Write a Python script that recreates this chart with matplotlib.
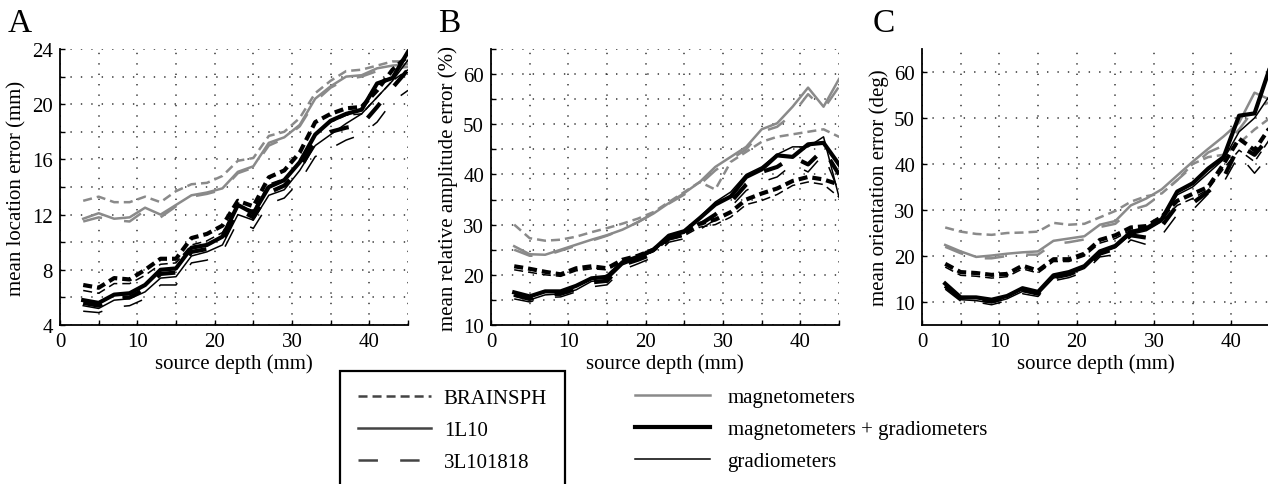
import matplotlib
matplotlib.use("Agg")
from matplotlib import pyplot as plt
from matplotlib.lines import Line2D
from matplotlib.ticker import MultipleLocator

plt.rcParams['font.family'] = ['Liberation Serif', 'DejaVu Serif']
plt.rcParams['lines.scale_dashes'] = False

depth = [3, 5, 7, 9, 11, 13, 15, 17, 19, 21, 23, 25, 27, 29, 31, 33, 35, 37, 39, 41, 43, 45]

# A: mean location error (mm)
loc_mag_bs = [13.0, 13.3, 12.9, 12.9, 13.3, 12.9, 13.7, 14.2, 14.3, 14.8, 15.9, 16.1, 17.7, 18.0, 19.0, 20.8, 21.7, 22.4, 22.5, 22.8, 23.1, 23.1]
loc_mag_1l = [11.7, 12.1, 11.7, 11.8, 12.5, 12.0, 12.7, 13.4, 13.6, 13.9, 15.1, 15.5, 17.2, 17.6, 18.5, 20.4, 21.3, 22.0, 22.1, 22.6, 22.8, 22.9]
loc_mag_3l = [11.5, 11.8, 11.6, 11.5, 12.3, 11.8, 12.6, 13.3, 13.5, 13.8, 15.0, 15.4, 17.0, 17.5, 18.4, 20.2, 21.2, 21.8, 22.0, 22.4, 22.6, 22.7]
loc_mg_bs = [6.9, 6.7, 7.4, 7.3, 8.0, 8.8, 8.8, 10.3, 10.6, 11.2, 13.0, 12.6, 14.7, 15.2, 16.5, 18.7, 19.3, 19.7, 19.8, 21.0, 22.5, 23.5]
loc_mg_1l = [5.8, 5.6, 6.2, 6.3, 6.9, 8.0, 8.1, 9.6, 9.8, 10.4, 12.7, 12.1, 14.0, 14.5, 15.8, 17.8, 18.8, 19.3, 19.6, 21.5, 21.9, 23.8]
loc_mg_3l = [5.6, 5.4, 6.0, 6.0, 6.6, 7.7, 7.8, 9.3, 9.5, 10.1, 12.4, 11.8, 13.6, 14.1, 15.3, 17.3, 18.0, 18.3, 18.5, 19.8, 21.2, 22.5]
loc_grad_bs = [6.5, 6.3, 7.0, 7.0, 7.6, 8.4, 8.5, 9.8, 10.1, 10.7, 12.6, 12.3, 14.2, 14.6, 15.8, 17.9, 18.7, 19.2, 19.3, 20.5, 21.7, 22.5]
loc_grad_1l = [5.4, 5.2, 5.8, 5.9, 6.4, 7.4, 7.5, 9.0, 9.3, 9.8, 12.0, 11.6, 13.4, 13.8, 15.2, 17.0, 17.8, 18.6, 19.3, 20.5, 21.7, 23.2]
loc_grad_3l = [5.0, 4.9, 5.3, 5.4, 5.9, 6.9, 6.9, 8.5, 8.7, 9.3, 11.5, 11.0, 12.8, 13.2, 14.4, 16.2, 16.8, 17.4, 17.8, 18.7, 20.2, 21.0]

# B: mean relative amplitude error (%)
amp_mag_bs = [30.0, 27.3, 26.8, 27.0, 27.6, 28.5, 29.3, 30.2, 31.2, 32.5, 34.5, 36.5, 38.5, 37.0, 42.5, 44.5, 46.5, 47.5, 48.0, 48.5, 49.0, 47.5]
amp_mag_1l = [25.7, 24.1, 24.0, 25.0, 26.0, 27.0, 27.9, 29.0, 30.5, 32.2, 34.3, 36.3, 38.5, 41.5, 43.5, 45.5, 49.0, 50.2, 53.5, 57.3, 53.5, 59.0]
amp_mag_3l = [25.0, 23.8, 23.8, 24.8, 25.8, 26.8, 27.8, 29.0, 30.5, 32.3, 34.2, 36.0, 38.0, 40.8, 43.0, 45.0, 48.5, 49.5, 52.0, 56.0, 53.0, 57.5]
amp_mg_bs = [21.7, 21.2, 20.6, 20.1, 21.3, 21.7, 21.3, 23.0, 23.8, 25.0, 27.5, 28.3, 30.2, 31.0, 32.5, 35.0, 36.2, 37.2, 38.7, 39.5, 39.0, 38.0]
amp_mg_1l = [16.5, 15.7, 16.7, 16.7, 17.8, 19.3, 19.6, 22.5, 23.6, 25.0, 27.8, 28.7, 31.3, 34.0, 35.6, 39.5, 41.0, 43.8, 43.5, 46.0, 46.3, 42.0]
amp_mg_3l = [16.0, 15.2, 16.2, 16.2, 17.2, 18.5, 18.8, 22.0, 23.0, 24.2, 27.2, 28.0, 30.0, 32.0, 34.5, 38.0, 40.5, 41.5, 43.5, 42.0, 45.0, 40.0]
amp_grad_bs = [21.0, 20.5, 20.0, 19.7, 20.8, 21.2, 21.0, 22.6, 23.4, 24.6, 27.0, 27.8, 29.5, 30.0, 31.5, 34.0, 34.8, 36.0, 37.8, 38.5, 38.0, 35.5]
amp_grad_1l = [15.8, 15.0, 16.0, 16.2, 17.0, 18.7, 19.0, 22.0, 23.2, 24.7, 27.5, 28.3, 31.5, 34.5, 36.5, 40.0, 41.5, 44.0, 45.5, 45.5, 47.5, 35.5]
amp_grad_3l = [15.2, 14.6, 15.5, 15.6, 16.6, 17.6, 18.0, 21.0, 22.2, 23.5, 26.5, 27.2, 29.0, 31.0, 33.5, 36.8, 38.5, 39.5, 42.0, 40.5, 44.0, 36.5]

# C: mean orientation error (deg)
ori_mag_bs = [26.2, 25.3, 24.8, 24.6, 25.0, 25.1, 25.3, 27.2, 26.8, 27.0, 28.4, 29.8, 31.8, 33.0, 33.6, 36.5, 40.0, 41.5, 42.0, 44.5, 47.5, 50.0]
ori_mag_1l = [22.4, 21.0, 19.8, 20.1, 20.5, 20.8, 21.0, 23.3, 23.8, 24.3, 26.8, 27.6, 31.0, 32.5, 34.5, 37.5, 40.5, 43.3, 46.0, 49.0, 55.5, 54.0]
ori_mag_3l = [22.0, 20.6, 19.5, 19.5, 20.0, 20.3, 20.3, 22.6, 23.0, 23.6, 26.3, 27.0, 30.0, 31.0, 33.5, 36.5, 39.5, 42.5, 44.0, 47.5, 52.0, 53.5]
ori_mg_bs = [18.3, 16.5, 16.3, 15.9, 16.1, 17.9, 16.8, 19.3, 19.3, 20.5, 23.5, 24.5, 26.2, 26.5, 28.5, 32.0, 33.5, 35.0, 40.0, 45.5, 43.0, 48.0]
ori_mg_1l = [14.0, 11.0, 11.0, 10.5, 11.3, 13.0, 12.2, 15.8, 16.5, 17.8, 21.0, 22.2, 25.2, 26.0, 28.0, 34.0, 35.8, 39.0, 41.5, 50.5, 51.0, 61.0]
ori_mg_3l = [13.5, 10.8, 10.7, 10.2, 11.0, 12.6, 11.8, 15.3, 16.0, 17.3, 20.5, 21.6, 24.5, 24.0, 26.5, 31.0, 31.5, 34.0, 37.0, 44.0, 42.0, 46.0]
ori_grad_bs = [17.6, 15.8, 15.6, 15.2, 15.5, 17.2, 16.3, 18.8, 18.8, 20.0, 22.8, 23.8, 25.6, 25.8, 27.6, 31.0, 32.5, 34.5, 39.0, 43.0, 40.5, 45.5]
ori_grad_1l = [13.2, 10.5, 10.3, 9.8, 10.7, 12.3, 11.7, 15.2, 16.0, 17.3, 20.6, 21.8, 24.7, 25.5, 27.5, 33.3, 35.0, 38.0, 41.0, 47.0, 50.0, 55.0]
ori_grad_3l = [12.8, 10.2, 10.0, 9.4, 10.3, 11.8, 11.2, 14.6, 15.3, 16.5, 19.8, 20.3, 23.5, 22.5, 24.5, 29.0, 30.0, 33.5, 36.0, 42.0, 38.0, 42.0]

model_names = ["BRAINSPH", "1L10", "3L101818"]
sensor_names = ["magnetometers", "magnetometers + gradiometers", "gradiometers"]

GRAY = "#8a8a8a"
sensor_style = [dict(color=GRAY, lw=1.8), dict(color="black", lw=3.0), dict(color="black", lw=1.1)]
model_dash = [(0, (6.5, 3.6)), "solid", (0, (14, 16))]

panels = [
    ("A", "mean location error (mm)", (4, 24), 4, 2,
     [[loc_mag_bs, loc_mag_1l, loc_mag_3l], [loc_mg_bs, loc_mg_1l, loc_mg_3l], [loc_grad_bs, loc_grad_1l, loc_grad_3l]]),
    ("B", "mean relative amplitude error (%)", (10, 65), 10, 5,
     [[amp_mag_bs, amp_mag_1l, amp_mag_3l], [amp_mg_bs, amp_mg_1l, amp_mg_3l], [amp_grad_bs, amp_grad_1l, amp_grad_3l]]),
    ("C", "mean orientation error (deg)", (5, 65), 10, None,
     [[ori_mag_bs, ori_mag_1l, ori_mag_3l], [ori_mg_bs, ori_mg_1l, ori_mg_3l], [ori_grad_bs, ori_grad_1l, ori_grad_3l]]),
]

W, H = 1268, 485
fig = plt.figure(figsize=(W / 100, H / 100), dpi=100)
lefts = [60, 491, 922]
letter_x = [8, 438, 873]
grid_kw = dict(color="#333333", lw=1.1, linestyle=(0, (1, 6.5)))

for (letter, ylab, ylim, ymaj, ymin, series), lx, tx in zip(panels, lefts, letter_x):
    ax = fig.add_axes([lx / W, 1 - 326 / H, 348 / W, 276 / H])
    for si, group in enumerate(series):
        for mi, vals in enumerate(group):
            ax.plot(depth, vals, linestyle=model_dash[mi], **sensor_style[si])
    ax.set_xlim(0, 45)
    ax.set_ylim(*ylim)
    ax.xaxis.set_major_locator(MultipleLocator(10))
    ax.xaxis.set_minor_locator(MultipleLocator(5))
    ax.yaxis.set_major_locator(MultipleLocator(ymaj))
    if ymin:
        ax.yaxis.set_minor_locator(MultipleLocator(ymin))
    ax.grid(True, which="both", **grid_kw)
    ax.set_axisbelow(True)
    for s in ["top", "right"]:
        ax.spines[s].set_visible(False)
    for s in ["left", "bottom"]:
        ax.spines[s].set_linewidth(1.3)
    ax.tick_params(which="both", direction="in", length=3.5, width=1.0, labelsize=15, pad=5)
    ax.set_xlabel("source depth (mm)", fontsize=15, labelpad=2)
    ax.set_ylabel(ylab, fontsize=15, labelpad=4)
    fig.text(tx / W, 1 - 32 / H, letter, fontsize=24, va="baseline")

model_handles = [Line2D([], [], color="#444444", lw=1.8, linestyle=d) for d in model_dash]
leg1 = fig.legend(model_handles, model_names, loc="upper left", bbox_to_anchor=(340 / W, 1 - 372 / H),
                  fontsize=15, handlelength=3.5, handletextpad=0.63, labelspacing=0.6,
                  borderpad=0.85, borderaxespad=0, fancybox=False, edgecolor="black", framealpha=1)
leg1.get_frame().set_linewidth(1.6)

sensor_handles = [Line2D([], [], **st) for st in sensor_style]
fig.legend(sensor_handles, sensor_names, loc="upper left", bbox_to_anchor=(625 / W, 1 - 378 / H),
           fontsize=15, handlelength=3.6, handletextpad=0.82, labelspacing=0.6,
           borderpad=0.5, borderaxespad=0, frameon=False)

fig.savefig("out.png", dpi=100)
